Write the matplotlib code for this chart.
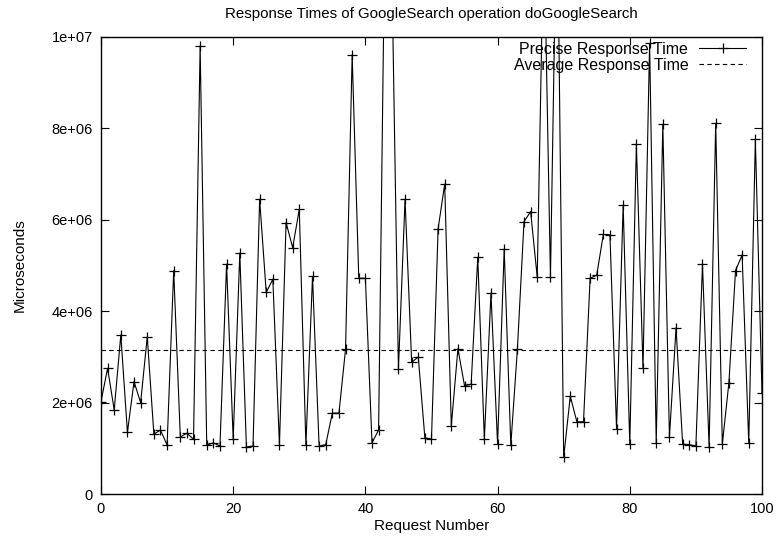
import matplotlib
matplotlib.use('Agg')
import matplotlib.pyplot as plt
import numpy as np

# response time per request, microseconds
request_no = list(range(0, 101))
response_us = [
    2.02e6, 2.75e6, 1.84e6, 3.48e6, 1.35e6, 2.46e6, 2.00e6, 3.44e6, 1.31e6, 1.40e6,
    1.07e6, 4.89e6, 1.25e6, 1.33e6, 1.20e6, 9.80e6, 1.07e6, 1.12e6, 1.05e6, 5.03e6,
    1.20e6, 5.27e6, 1.03e6, 1.05e6, 6.45e6, 4.41e6, 4.70e6, 1.07e6, 5.94e6, 5.39e6,
    6.23e6, 1.07e6, 4.76e6, 1.05e6, 1.08e6, 1.77e6, 1.77e6, 3.17e6, 9.61e6, 4.72e6,
    4.72e6, 1.12e6, 1.40e6, 1.30e7, 1.15e7, 2.73e6, 6.45e6, 2.88e6, 3.00e6, 1.23e6,
    1.20e6, 5.80e6, 6.78e6, 1.49e6, 3.18e6, 2.37e6, 2.40e6, 5.18e6, 1.20e6, 4.39e6,
    1.09e6, 5.36e6, 1.07e6, 3.17e6, 5.96e6, 6.18e6, 4.74e6, 1.25e7, 4.74e6, 1.35e7,
    0.80e6, 2.14e6, 1.58e6, 1.58e6, 4.72e6, 4.79e6, 5.68e6, 5.67e6, 1.42e6, 6.32e6,
    1.09e6, 7.66e6, 2.75e6, 9.86e6, 1.12e6, 8.09e6, 1.24e6, 3.64e6, 1.09e6, 1.08e6,
    1.05e6, 5.03e6, 1.03e6, 8.11e6, 1.09e6, 2.44e6, 4.89e6, 5.23e6, 1.11e6, 7.76e6,
    2.22e6,
]
average_us = 3.15e6

xticks = [0, 20, 40, 60, 80, 100]
yticks = [0, 2e6, 4e6, 6e6, 8e6, 1e7]
ytick_labels = ['0', '2e+06', '4e+06', '6e+06', '8e+06', '1e+07']

plt.rcParams['font.family'] = ['Liberation Sans', 'DejaVu Sans']

fig = plt.figure(figsize=(7.78, 5.43), dpi=100)
ax = fig.add_axes([0.1298, 0.0902, 0.8496, 0.8417])

ax.plot(request_no, response_us, color='black', lw=0.8, marker='+',
        ms=7, mew=0.9, label='Precise Response Time')
ax.axhline(average_us, color='black', lw=0.8, ls=(0, (4, 3)),
           label='Average Response Time')

ax.set_xlim(0, 100)
ax.set_ylim(0, 1e7)
ax.set_xticks(xticks)
ax.set_yticks(yticks)
ax.set_yticklabels(ytick_labels)
ax.tick_params(direction='in', length=6, width=0.8, top=True, right=True,
               labelsize=10.5, pad=6)
for s in ax.spines.values():
    s.set_linewidth(1.0)

ax.set_title('Response Times of GoogleSearch operation doGoogleSearch',
             fontsize=10.8, pad=14)
ax.set_xlabel('Request Number', fontsize=11, labelpad=2)
ax.set_ylabel('Microseconds', fontsize=11)
ax.yaxis.set_label_coords(-0.113, 0.5)

leg = ax.legend(loc='upper right', bbox_to_anchor=(0.99, 1.01), frameon=False,
                markerfirst=False, handlelength=2.9, handletextpad=0.7,
                labelspacing=0.05, numpoints=1, fontsize=11.5, borderaxespad=0.2)

fig.savefig('out.png', dpi=100)
